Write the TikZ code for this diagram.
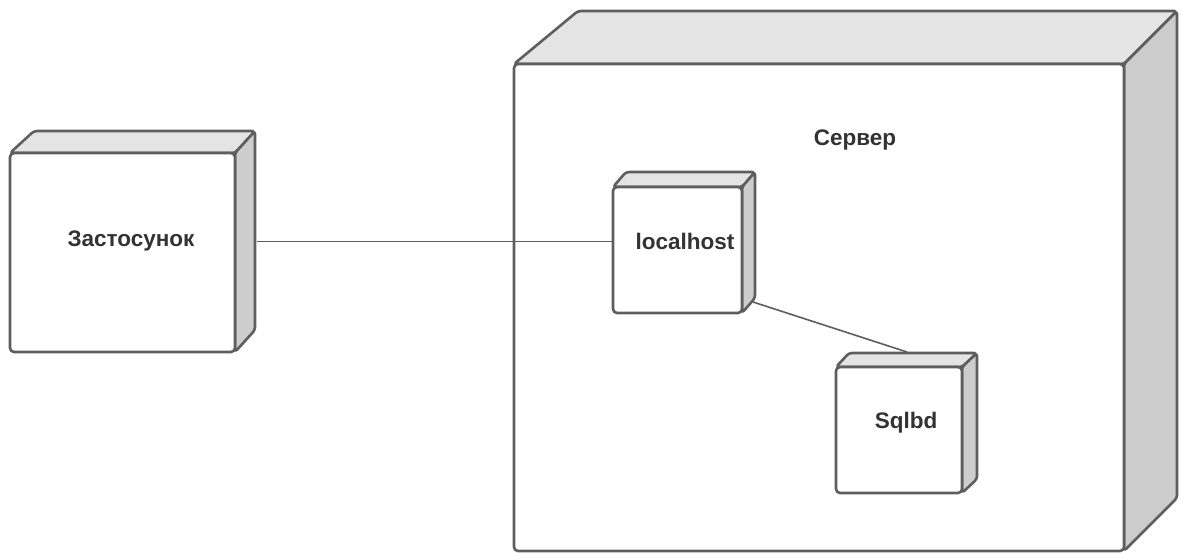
\documentclass[tikz,border=0pt]{standalone}
\usepackage{fontspec}
\setmainfont{Liberation Sans}
\usetikzlibrary{calc}
\definecolor{edge}{HTML}{5E5E5E}
\definecolor{topface}{HTML}{E4E4E4}
\definecolor{sideface}{HTML}{CDCDCD}
\definecolor{ink}{HTML}{333333}
\tikzset{
  face/.style={draw=edge, line width=2.6pt, rounded corners=3pt, line join=round},
  front/.style={face, fill=white, rectangle, inner sep=0pt, outer sep=0pt, rounded corners=4pt},
  lbl/.style={font=\bfseries\fontsize{22.5}{27}\selectfont, text=ink, inner sep=0pt},
  link/.style={draw=edge, line width=1.6pt},
}
% #1 name, #2 left, #3 top, #4 right, #5 bottom (front face),
% #6 depth at the left back edge, #7 depth at the right back edge, #8 rise
\newcommand\devbox[8]{%
  \path[face, fill=topface] ({#2},{#3}) -- ({#2+#6},{#3-#8}) -- ({#4+#7},{#3-#8}) -- ({#4},{#3}) -- cycle;
  \path[face, fill=sideface] ({#4},{#3}) -- ({#4+#7},{#3-#8}) -- ({#4+#7},{#5-#8}) -- ({#4},{#5}) -- cycle;
  \node[front, minimum width={(#4)-(#2)}, minimum height={(#5)-(#3)}] (#1) at ({(#2+#4)/2},{(#3+#5)/2}) {};
}
\begin{document}
\begin{tikzpicture}[x=1pt, y=-1pt]
  \useasboundingbox (0,0) rectangle (1183,553);

  % devices
  \devbox{app}{10}{153}{235}{352}{24}{20}{22}
  \devbox{srv}{514}{64}{1124}{551}{64}{53}{53}
  \devbox{lh}{613}{187}{742}{313}{13}{13}{15}
  \devbox{sq}{836}{367}{962}{493}{13}{15}{14}

  % labels
  \node[lbl] (app-text) at (131,241) {Застосунок};
  \node[lbl] (srv-text) at (855,140) {Сервер};
  \node[lbl] (lh-text) at (685,241) {localhost};
  \node[lbl] (sq-text) at (906,423) {Sqlbd};

  % connections
  \coordinate (app-port) at ($(app.east)+(22,-11)$);
  \draw[link] (app-port) -- (app-port -| lh.west);
  \coordinate (lh-port) at ($(lh.south east)+(11,-11)$);
  \coordinate (sq-port) at ($(sq.north)+(8,-15)$);
  \draw[link] (lh-port) -- (sq-port);
\end{tikzpicture}
\end{document}
